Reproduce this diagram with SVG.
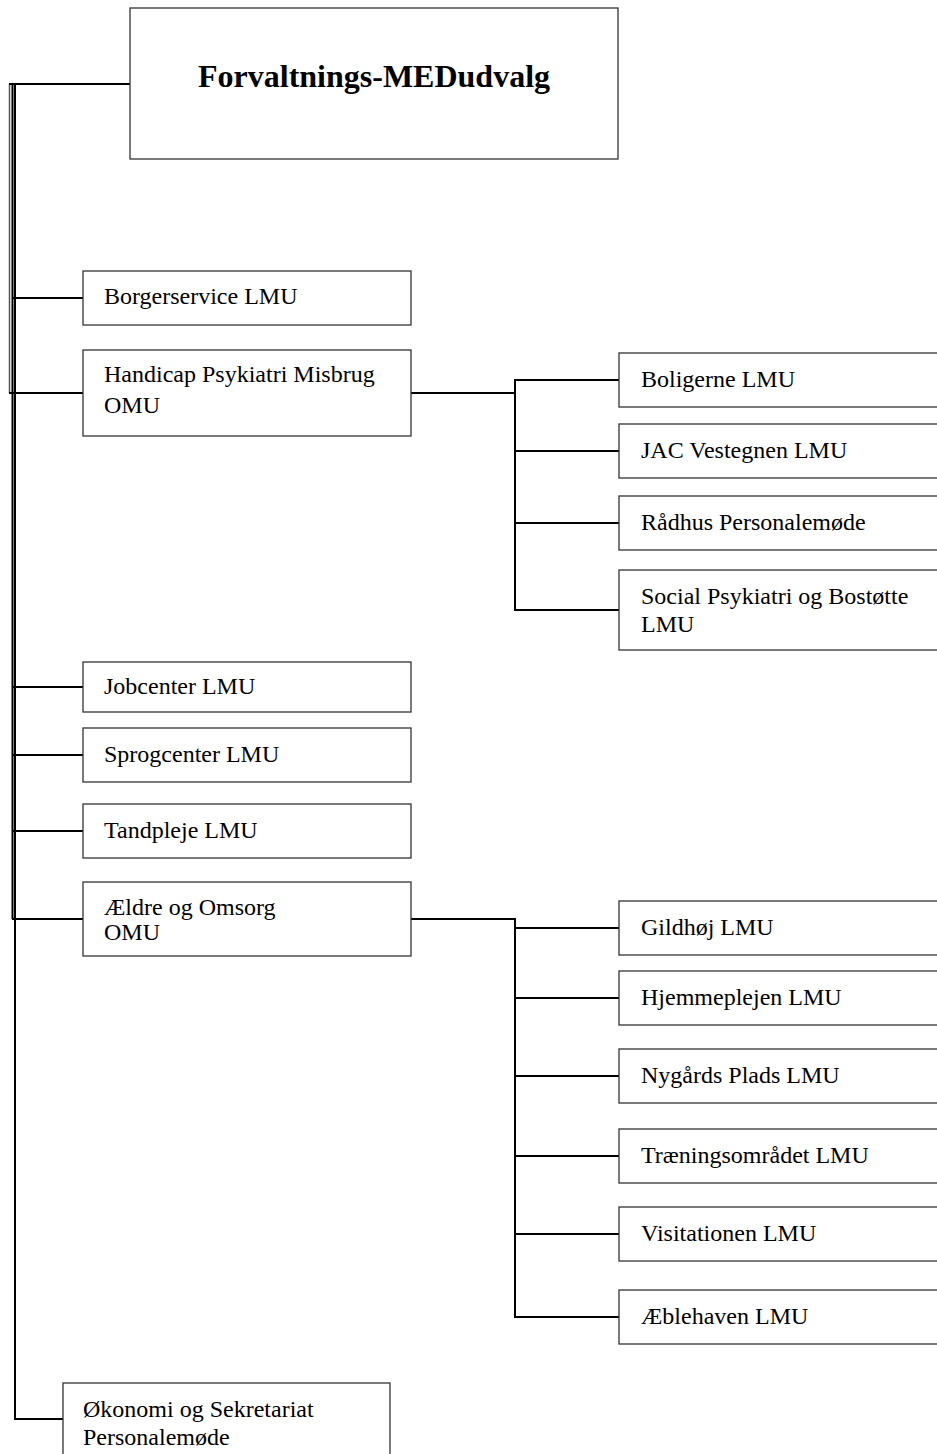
<svg xmlns="http://www.w3.org/2000/svg" width="937" height="1454" viewBox="0 0 937 1454">
<style>
.box{fill:#fff;stroke:#333;stroke-width:1.3}
.t{font-family:"Liberation Serif","Times New Roman",serif;font-size:24px;fill:#000}
.title{font-family:"Liberation Serif","Times New Roman",serif;font-size:32px;font-weight:bold;fill:#000}
.c{fill:none;stroke:#000;stroke-width:2}
.c2{fill:none;stroke:#555;stroke-width:1.5}
</style>
<rect width="937" height="1454" fill="#fff"/>
<g id="connectors">
<line class="c2" x1="9.5" y1="84" x2="9.5" y2="393"/>
<line class="c" x1="12.5" y1="83" x2="12.5" y2="919"/>
<line class="c" x1="15" y1="84" x2="15" y2="1419"/>
<line class="c" x1="9" y1="84" x2="130" y2="84"/>
<line class="c" x1="13" y1="298" x2="83" y2="298"/>
<line class="c" x1="9" y1="393" x2="83" y2="393"/>
<line class="c" x1="13" y1="687" x2="83" y2="687"/>
<line class="c" x1="13" y1="755" x2="83" y2="755"/>
<line class="c" x1="13" y1="831" x2="83" y2="831"/>
<line class="c" x1="12" y1="919" x2="83" y2="919"/>
<line class="c" x1="14" y1="1419" x2="63" y2="1419"/>
<line class="c" x1="411" y1="393" x2="515" y2="393"/>
<line class="c" x1="515" y1="379" x2="515" y2="611"/>
<line class="c" x1="514" y1="380" x2="619" y2="380"/>
<line class="c" x1="514" y1="451" x2="619" y2="451"/>
<line class="c" x1="514" y1="523" x2="619" y2="523"/>
<line class="c" x1="514" y1="610" x2="619" y2="610"/>
<line class="c" x1="411" y1="919" x2="516" y2="919"/>
<line class="c" x1="515" y1="918" x2="515" y2="1318"/>
<line class="c" x1="514" y1="928" x2="619" y2="928"/>
<line class="c" x1="514" y1="998" x2="619" y2="998"/>
<line class="c" x1="514" y1="1076" x2="619" y2="1076"/>
<line class="c" x1="514" y1="1156" x2="619" y2="1156"/>
<line class="c" x1="514" y1="1234" x2="619" y2="1234"/>
<line class="c" x1="514" y1="1317" x2="619" y2="1317"/>
</g>
<g id="forvaltning"><rect class="box" x="130" y="8" width="488" height="151"/><text class="title" x="374" y="87" text-anchor="middle">Forvaltnings-MEDudvalg</text></g>
<g id="borgerservice"><rect class="box" x="83" y="271" width="328" height="54"/><text class="t" x="104" y="304">Borgerservice LMU</text></g>
<g id="handicap"><rect class="box" x="83" y="350" width="328" height="86"/><text class="t" x="104" y="382">Handicap Psykiatri Misbrug</text><text class="t" x="104" y="413">OMU</text></g>
<g id="boligerne"><rect class="box" x="619" y="353" width="330" height="54"/><text class="t" x="641" y="387">Boligerne LMU</text></g>
<g id="jac"><rect class="box" x="619" y="424" width="330" height="54"/><text class="t" x="641" y="458">JAC Vestegnen LMU</text></g>
<g id="raadhus"><rect class="box" x="619" y="496" width="330" height="54"/><text class="t" x="641" y="530">Rådhus Personalemøde</text></g>
<g id="socialpsyk"><rect class="box" x="619" y="570" width="330" height="80"/><text class="t" x="641" y="604">Social Psykiatri og Bostøtte</text><text class="t" x="641" y="632">LMU</text></g>
<g id="jobcenter"><rect class="box" x="83" y="662" width="328" height="50"/><text class="t" x="104" y="694">Jobcenter LMU</text></g>
<g id="sprogcenter"><rect class="box" x="83" y="728" width="328" height="54"/><text class="t" x="104" y="762">Sprogcenter LMU</text></g>
<g id="tandpleje"><rect class="box" x="83" y="804" width="328" height="54"/><text class="t" x="104" y="838">Tandpleje LMU</text></g>
<g id="aeldre"><rect class="box" x="83" y="882" width="328" height="74"/><text class="t" x="104" y="915">Ældre og Omsorg</text><text class="t" x="104" y="940">OMU</text></g>
<g id="gildhoj"><rect class="box" x="619" y="901" width="330" height="54"/><text class="t" x="641" y="935">Gildhøj LMU</text></g>
<g id="hjemmeplejen"><rect class="box" x="619" y="971" width="330" height="54"/><text class="t" x="641" y="1005">Hjemmeplejen LMU</text></g>
<g id="nygaards"><rect class="box" x="619" y="1049" width="330" height="54"/><text class="t" x="641" y="1083">Nygårds Plads LMU</text></g>
<g id="traening"><rect class="box" x="619" y="1129" width="330" height="54"/><text class="t" x="641" y="1163">Træningsområdet LMU</text></g>
<g id="visitationen"><rect class="box" x="619" y="1207" width="330" height="54"/><text class="t" x="641" y="1241">Visitationen LMU</text></g>
<g id="aeblehaven"><rect class="box" x="619" y="1290" width="330" height="54"/><text class="t" x="641" y="1324">Æblehaven LMU</text></g>
<g id="okonomi"><rect class="box" x="63" y="1383" width="327" height="80"/><text class="t" x="83" y="1417">Økonomi og Sekretariat</text><text class="t" x="83" y="1445">Personalemøde</text></g>
</svg>
